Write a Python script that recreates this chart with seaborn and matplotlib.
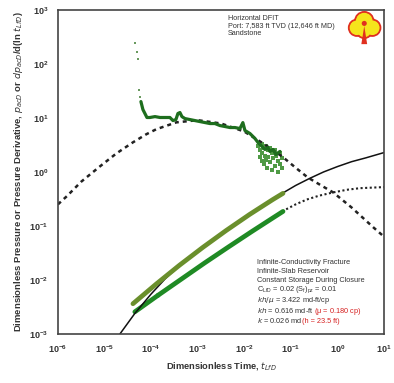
import numpy as np
import pandas as pd
import matplotlib
matplotlib.use("Agg")
import matplotlib.pyplot as plt
import seaborn as sns
from matplotlib.patches import Circle, Polygon

sns.set_style("white")
plt.rcParams['font.family'] = ['Liberation Sans', 'DejaVu Sans']
plt.rcParams['mathtext.default'] = 'regular'

# ---------------- data ----------------
# early sparse derivative points
deriv_sparse_t = [4.49e-5, 4.95e-5, 5.2e-5, 5.47e-5, 5.75e-5]
deriv_sparse_y = [246, 168, 125, 33.4, 24.8]

# dense derivative data
deriv_t = [6.04e-5, 6.35e-5, 6.67e-5, 7.36e-5, 8.13e-5, 9.4e-5, 1.21e-4, 1.55e-4,
           1.98e-4, 2.53e-4, 2.94e-4, 3.40e-4, 3.76e-4, 4.15e-4, 4.58e-4, 5.31e-4,
           6.8e-4, 8.7e-4, 1.11e-3, 1.43e-3, 1.83e-3, 2.34e-3, 2.99e-3, 3.84e-3,
           4.91e-3, 6.28e-3, 8.05e-3, 9.3e-3, 1.03e-2, 1.32e-2, 1.69e-2, 1.96e-2,
           2.39e-2, 2.77e-2, 3.2e-2, 3.54e-2, 4.11e-2, 4.76e-2, 5.81e-2]
deriv_y = [20.1, 16.9, 14.3, 12.1, 10.2, 10.2, 10.6, 10.2,
           10.2, 10.2, 8.95, 9.34, 12.1, 12.6, 10.6, 9.75,
           9.34, 8.95, 8.58, 8.22, 7.88, 7.88, 7.24, 6.94,
           6.65, 6.65, 6.37, 8.2, 5.86, 5.15, 4.17, 3.52,
           2.97, 2.61, 2.84, 2.40, 2.61, 2.11, 2.40]

# late noisy derivative scatter
scat_t = [1.96e-2, 2.16e-2, 2.16e-2, 2.39e-2, 2.39e-2, 2.39e-2, 2.64e-2, 2.64e-2,
          2.77e-2, 2.91e-2, 2.91e-2, 3.05e-2, 3.2e-2, 3.2e-2, 3.54e-2, 3.54e-2,
          3.91e-2, 3.91e-2, 4.11e-2, 4.54e-2, 4.54e-2, 4.76e-2, 5.26e-2, 5.26e-2,
          5.81e-2, 5.81e-2, 6.41e-2, 6.41e-2]
scat_y = [3.0, 2.6, 1.9, 3.3, 2.2, 1.6, 2.8, 1.4,
          2.0, 3.0, 1.7, 1.2, 2.5, 1.9, 2.8, 1.5,
          2.2, 1.1, 1.8, 2.5, 1.3, 2.0, 1.6, 1.0,
          2.2, 1.4, 1.8, 1.2]

# pressure data: upper (olive) and lower (green)
p_up_t = [4.07e-5, 1.29e-4, 4.07e-4, 1.29e-3, 4.07e-3, 1.29e-2, 4.07e-2, 6.76e-2]
p_up_y = [3.63e-3, 8.43e-3, 1.88e-2, 4.02e-2, 8.24e-2, 0.163, 0.308, 0.402]
p_lo_t = [4.47e-5, 1.41e-4, 4.47e-4, 1.41e-3, 4.47e-3, 1.41e-2, 4.47e-2, 6.76e-2]
p_lo_y = [2.57e-3, 5.21e-3, 1.04e-2, 2.07e-2, 4.04e-2, 7.78e-2, 0.148, 0.186]

# type curves
tc_p_t = [2.14e-5, 4.47e-5, 1e-4, 2e-4, 4.07e-4, 1.29e-3, 4.07e-3, 1.29e-2, 4.07e-2,
          6.76e-2, 0.126, 0.251, 0.501, 1.0, 2.0, 4.0, 10.0]
tc_p_y = [1e-3, 2.4e-3, 5.5e-3, 1.05e-2, 1.85e-2, 4.0e-2, 8.2e-2, 0.163, 0.308,
          0.41, 0.562, 0.759, 1.0, 1.26, 1.55, 1.82, 2.29]
tc_d_t = [1e-6, 1.55e-6, 3.16e-6, 7.9e-6, 1.78e-5, 4.1e-5, 7.9e-5, 1.3e-4, 3.5e-4,
          1e-3, 3.16e-3, 1e-2, 2.5e-2, 6.4e-2, 0.126, 0.23, 0.45, 0.8, 2.0, 5.8, 10.0]
tc_d_y = [0.251, 0.355, 0.66, 1.26, 2.19, 3.55, 5.0, 6.2, 8.3,
          9.1, 7.9, 5.6, 3.4, 1.95, 1.2, 0.79, 0.56, 0.42, 0.22, 0.095, 0.063]
tc_dp_t = [0.0646, 0.126, 0.219, 0.398, 0.794, 1.58, 3.02, 10.0]
tc_dp_y = [0.186, 0.251, 0.309, 0.363, 0.417, 0.468, 0.501, 0.525]

xticks = [1e-6, 1e-5, 1e-4, 1e-3, 1e-2, 1e-1, 1e0, 1e1]
yticks = [1e-3, 1e-2, 1e-1, 1e0, 1e1, 1e2, 1e3]

# ---------------- figure ----------------
fig = plt.figure(figsize=(3.94, 3.83), dpi=100)
ax = fig.add_axes([0.147, 0.128, 0.828, 0.846])
ax.set_xscale('log')
ax.set_yscale('log')


def df(t, y):
    return pd.DataFrame({'t': t, 'y': y})


def line(t, y, **kw):
    sns.lineplot(data=df(t, y), x='t', y='y', ax=ax, sort=False, estimator=None, **kw)


line(tc_d_t, tc_d_y, color='#222222', lw=1.8, linestyle=(0, (1.6, 1.6)))
line(tc_dp_t, tc_dp_y, color='#222222', lw=1.5, linestyle=(0, (1.0, 1.2)))
line(p_lo_t[:2], p_lo_y[:2], color='#1f8a24', lw=3.4)
line(tc_p_t, tc_p_y, color='#111111', lw=1.1)
line(p_up_t, p_up_y, color='#6a8f2c', lw=3.4)
line(p_lo_t[1:], p_lo_y[1:], color='#1f8a24', lw=3.4)

sns.scatterplot(data=df(scat_t, scat_y), x='t', y='y', ax=ax, color='#4f9a45',
                marker='s', s=5, linewidth=0)
line(deriv_t, deriv_y, color='#1e6e1e', lw=2.3)
sns.scatterplot(data=df(deriv_sparse_t, deriv_sparse_y), x='t', y='y', ax=ax,
                color='#6a9a60', marker='s', s=3.5, linewidth=0)

ax.set_xlim(1e-6, 1e1)
ax.set_ylim(1e-3, 1e3)
ax.set_xticks(xticks)
ax.set_yticks(yticks)
ax.minorticks_off()
ax.tick_params(length=0, labelsize=6.5, labelcolor='#333333', pad=7)
for lab in ax.get_xticklabels() + ax.get_yticklabels():
    lab.set_fontweight('bold')
for s in ax.spines.values():
    s.set_color('#444444')
    s.set_linewidth(1.2)

ax.set_xlabel(r"Dimensionless Time, $\it{t_{LfD}}$", fontsize=6.7, fontweight='bold', color='#333333')
ax.set_ylabel(r"Dimensionless Pressure or Pressure Derivative, $\it{p_{acD}}$ or $\it{dp_{acD}}$/d(ln $\it{t_{LfD}}$)",
              fontsize=6.8, fontweight='bold', color='#333333')
ax.xaxis.set_label_coords(0.50, -0.08)
ax.yaxis.set_label_coords(-0.10, 0.50)

ax.text(0.522, 0.985, "Horizontal DFIT\nPort: 7,583 ft TVD (12,646 ft MD)\nSandstone",
        transform=ax.transAxes, fontsize=5.2, va='top', ha='left', color='#333333',
        linespacing=1.15)

box_lines = [
    ("Infinite-Conductivity Fracture", None),
    ("Infinite-Slab Reservoir", None),
    ("Constant Storage During Closure", None),
    (r"$C_{LfD}$ = 0.02 $(S_f)_{pz}$ = 0.01", None),
    (r"$\it{kh/\mu}$ = 3.422 md-ft/cp", None),
    (r"$\it{kh}$ = 0.616 md-ft ", r"($\mu$ = 0.180 cp)"),
    (r"$\it{k}$ = 0.026 md ", r"(h = 23.5 ft)"),
]
line_y = [0.216, 0.188, 0.160, 0.132, 0.099, 0.064, 0.035]
fig.canvas.draw()
for (txt, red), yy in zip(box_lines, line_y):
    t = ax.text(0.61, yy, txt, transform=ax.transAxes, fontsize=5.3,
                va='baseline', ha='left', color='#333333')
    if red:
        fig.canvas.draw()
        bb = t.get_window_extent().transformed(ax.transAxes.inverted())
        ax.text(bb.x1, yy, red, transform=ax.transAxes, fontsize=5.3,
                va='baseline', ha='left', color='#d62020')

# logo
lax = fig.add_axes([0.872, 0.88, 0.105, 0.095])
lax.set_xlim(0, 1)
lax.set_ylim(0, 1)
lax.set_aspect('equal')
lax.axis('off')
blobs = [(0.3, 0.5, 0.22), (0.5, 0.68, 0.25), (0.72, 0.5, 0.22), (0.5, 0.42, 0.2)]
for (cx, cy, r) in blobs:
    lax.add_patch(Circle((cx, cy), r, facecolor='#f5e51c', edgecolor='#e03020', lw=1.6))
for (cx, cy, r) in blobs:
    lax.add_patch(Circle((cx, cy), r - 0.02, facecolor='#f5e51c', edgecolor='none'))
lax.add_patch(Polygon([[0.42, 0.05], [0.5, 0.55], [0.58, 0.05]], closed=True,
                      facecolor='#e03020', edgecolor='none'))
lax.add_patch(Circle((0.5, 0.62), 0.07, facecolor='#e03020', edgecolor='none'))

fig.savefig("out.png", dpi=100)
